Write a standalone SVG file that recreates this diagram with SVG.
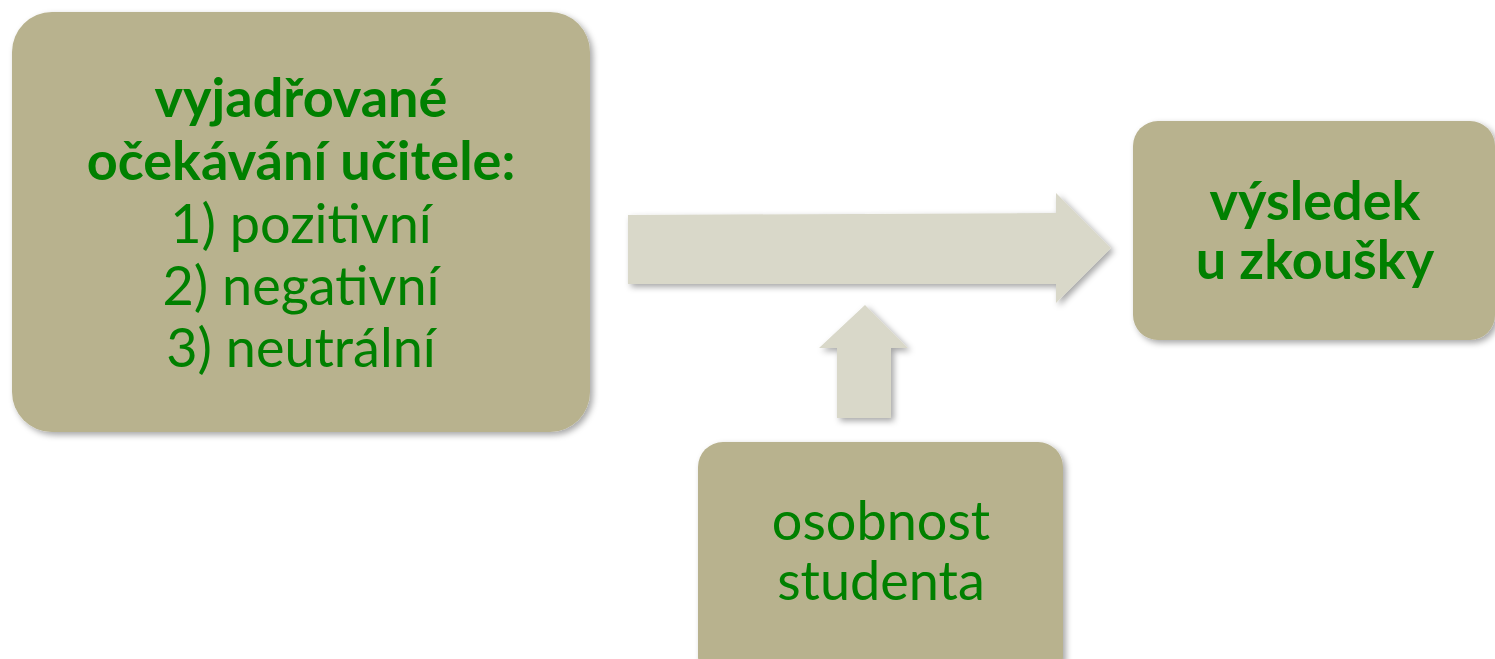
<svg xmlns="http://www.w3.org/2000/svg" width="1495" height="659" viewBox="0 0 1495 659">
<defs>
<filter id="sh" x="-10%" y="-10%" width="130%" height="130%">
<feDropShadow dx="3" dy="3" stdDeviation="3" flood-color="#000" flood-opacity="0.35"/>
</filter>
</defs>
<style>
.box{fill:#b8b28e;filter:url(#sh)}
.arr{fill:#d9d8c9;filter:url(#sh)}
text{font-family:Lato,"Open Sans","Liberation Sans",sans-serif;fill:#008000;text-anchor:middle;font-size:54px}
.b{font-weight:bold}
</style>
<rect width="1495" height="659" fill="#ffffff"/>
<g id="connectors">
<path class="arr" d="M628,215 L1056,213 L1056,193 L1111,248 L1056,303 L1056,284 L628,284 Z"/>
<path class="arr" d="M837,418 L837,348 L819,348 L865,305 L908,348 L891,348 L891,418 Z"/>
</g>
<g id="node-expectations">
<rect class="box" x="12" y="12" width="578" height="420" rx="40"/>
<text class="b" x="301" y="117">vyjadřované</text>
<text class="b" x="301" y="180">očekávání učitele:</text>
<text x="301" y="243">1) pozitivní</text>
<text x="301" y="305">2) negativní</text>
<text x="301" y="367">3) neutrální</text>
</g>
<g id="node-result">
<rect class="box" x="1133" y="121" width="362" height="219" rx="25"/>
<text class="b" x="1315" y="220">výsledek</text>
<text class="b" x="1315" y="279">u zkoušky</text>
</g>
<g id="node-personality">
<rect class="box" x="698" y="442" width="365" height="240" rx="25"/>
<text x="881" y="540">osobnost</text>
<text x="881" y="600">studenta</text>
</g>
</svg>
